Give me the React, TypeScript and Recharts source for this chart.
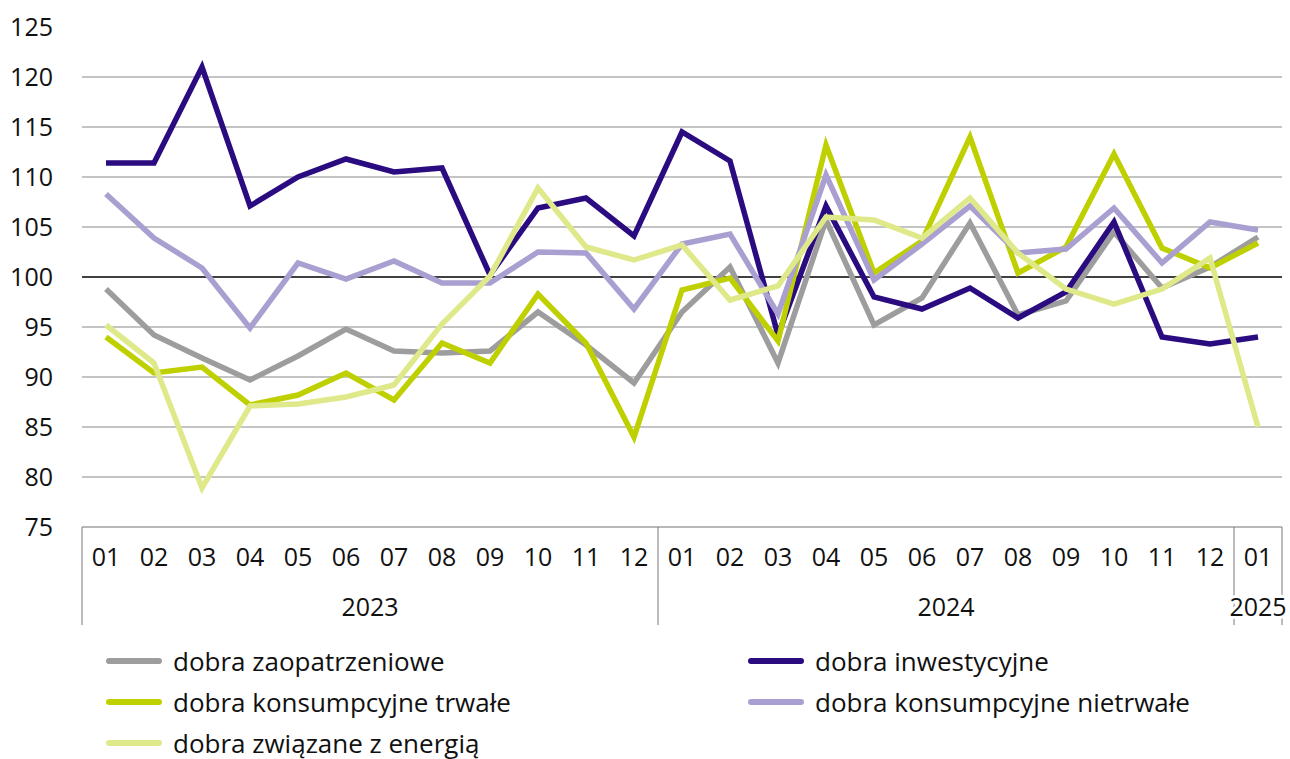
import { LineChart, Line, XAxis, YAxis, ReferenceLine } from "recharts";

const months = ["01", "02", "03", "04", "05", "06", "07", "08", "09", "10", "11", "12",
  "01", "02", "03", "04", "05", "06", "07", "08", "09", "10", "11", "12", "01"];
const years = ["2023", "2023", "2023", "2023", "2023", "2023", "2023", "2023", "2023", "2023", "2023", "2023",
  "2024", "2024", "2024", "2024", "2024", "2024", "2024", "2024", "2024", "2024", "2024", "2024", "2025"];

const zaopatrzeniowe = [98.8, 94.2, 91.9, 89.7, 92.1, 94.8, 92.6, 92.4, 92.6, 96.5, 93.2, 89.4,
  96.5, 101.0, 91.4, 105.7, 95.2, 97.9, 105.4, 96.2, 97.6, 104.5, 98.9, 101.0, 104.0];
const inwestycyjne = [111.4, 111.4, 121.0, 107.1, 110.0, 111.8, 110.5, 110.9, 100.2, 106.9, 107.9, 104.1,
  114.5, 111.6, 94.2, 107.1, 98.0, 96.8, 98.9, 95.9, 98.5, 105.5, 94.0, 93.3, 94.0];
const trwale = [94.0, 90.4, 91.0, 87.2, 88.2, 90.4, 87.7, 93.4, 91.4, 98.3, 93.4, 84.0,
  98.7, 99.9, 93.6, 113.2, 100.4, 103.6, 114.0, 100.4, 103.0, 112.3, 102.9, 100.9, 103.4];
const nietrwale = [108.3, 103.9, 100.9, 94.9, 101.4, 99.8, 101.6, 99.4, 99.4, 102.5, 102.4, 96.8,
  103.3, 104.3, 96.3, 110.2, 99.7, 103.3, 107.1, 102.4, 102.8, 106.9, 101.4, 105.5, 104.7];
const energia = [95.2, 91.4, 78.9, 87.1, 87.3, 88.0, 89.2, 95.3, 100.1, 108.9, 103.0, 101.7,
  103.2, 97.7, 99.1, 106.0, 105.7, 103.9, 107.9, 102.4, 98.8, 97.3, 98.8, 101.9, 85.0];

const yTicks = [75, 80, 85, 90, 95, 100, 105, 110, 115, 120, 125];
const gridValues = [80, 85, 90, 95, 105, 110, 115, 120];

const series = [
  { key: "zaop", name: "dobra zaopatrzeniowe", color: "#9d9d9d", values: zaopatrzeniowe },
  { key: "inw", name: "dobra inwestycyjne", color: "#2a0c80", values: inwestycyjne },
  { key: "trw", name: "dobra konsumpcyjne trwałe", color: "#bfd000", values: trwale },
  { key: "nietrw", name: "dobra konsumpcyjne nietrwałe", color: "#a99fd0", values: nietrwale },
  { key: "energ", name: "dobra związane z energią", color: "#dfe98a", values: energia },
];

const data = months.map((m, i) => {
  const row: Record<string, string | number> = { label: years[i] + "-" + m, month: m, year: years[i] };
  series.forEach((s) => (row[s.key] = s.values[i]));
  return row;
});

const FONT = "'Open Sans', sans-serif";
const LEFT = 82;
const RIGHT = 1282;
const BOTTOM = 527;
const STEP = (RIGHT - LEFT) / months.length;

function MonthTick(props: any) {
  const { x, payload } = props;
  const i = payload.index ?? props.index;
  const m = months[i];
  const els: any[] = [];
  if (m === "01") {
    els.push(<line key="sep" x1={x - STEP / 2} x2={x - STEP / 2} y1={BOTTOM} y2={BOTTOM + 98} stroke="#7a7a7a" strokeWidth={1} />);
  }
  if (i === months.length - 1) {
    els.push(<line key="end" x1={x + STEP / 2} x2={x + STEP / 2} y1={BOTTOM} y2={BOTTOM + 98} stroke="#7a7a7a" strokeWidth={1} />);
  }
  els.push(
    <text key="m" x={x} y={BOTTOM + 29} textAnchor="middle" dominantBaseline="central" fontSize={25} fill="#111" fontFamily={FONT}>
      {m}
    </text>
  );
  if (m === "01") {
    const n = years.filter((y) => y === years[i]).length;
    els.push(
      <text key="y" x={x + ((n - 1) / 2) * STEP} y={BOTTOM + 79} textAnchor="middle" dominantBaseline="central"
        fontSize={25} fill="#111" fontFamily={FONT} stroke="#fff" strokeWidth={6} paintOrder="stroke">
        {years[i]}
      </text>
    );
  }
  return <g>{els}</g>;
}

function ValueTick(props: any) {
  const { y, payload } = props;
  return (
    <text x={53} y={y - 1} textAnchor="end" dominantBaseline="central" fontSize={25} fill="#111" fontFamily={FONT}>
      {payload.value}
    </text>
  );
}

const legendPos = [
  { left: 106, top: 661 },
  { left: 748, top: 661 },
  { left: 106, top: 702 },
  { left: 748, top: 702 },
  { left: 106, top: 743 },
];

export default function App() {
  return (
    <div style={{ position: "absolute", left: 0, top: 0, width: 1290, height: 759, background: "#fff", fontFamily: FONT }}>
      <LineChart width={1290} height={759} data={data} margin={{ top: 27, right: 8, left: 0, bottom: 132 }}>
        <XAxis
          dataKey="label"
          interval={0}
          height={100}
          padding={{ left: STEP / 2, right: STEP / 2 }}
          axisLine={{ stroke: "#a0a0a0", strokeWidth: 1.3 }}
          tickLine={false}
          tick={<MonthTick />}
        />
        <YAxis domain={[75, 125]} ticks={yTicks} width={LEFT} axisLine={false} tickLine={false} tick={<ValueTick />} />
        {gridValues.map((v) => (
          <ReferenceLine key={v} y={v} stroke="#b0b0b0" strokeWidth={1.3} />
        ))}
        <ReferenceLine y={100} stroke="#000" strokeWidth={1.6} />
        {series.map((s) => (
          <Line
            key={s.key}
            dataKey={s.key}
            name={s.name}
            stroke={s.color}
            strokeWidth={5.5}
            dot={false}
            activeDot={false}
            type="linear"
            isAnimationActive={false}
          />
        ))}
      </LineChart>
      {series.map((s, i) => (
        <div
          key={s.key}
          style={{
            position: "absolute",
            left: legendPos[i].left,
            top: legendPos[i].top - 20,
            height: 40,
            display: "flex",
            alignItems: "center",
            whiteSpace: "nowrap",
          }}
        >
          <div style={{ width: 56, height: 6, borderRadius: 3, background: s.color, marginRight: 11 }} />
          <span style={{ fontSize: 26, color: "#111" }}>{s.name}</span>
        </div>
      ))}
    </div>
  );
}
